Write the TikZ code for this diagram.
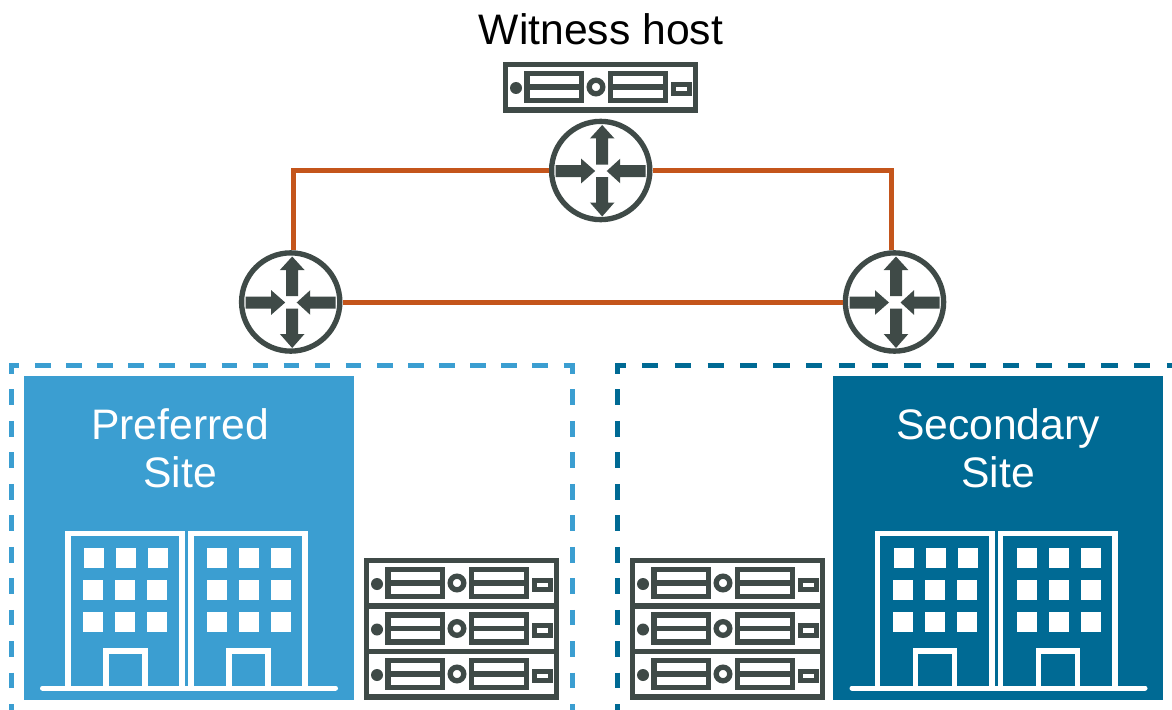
\documentclass[tikz,border=0pt]{standalone}
\usepackage{fontspec}
\setmainfont{Liberation Sans}
\definecolor{icon}{HTML}{3F4A47}
\definecolor{wan}{HTML}{C4551B}
\definecolor{sitea}{HTML}{3B9ED1}
\definecolor{siteb}{HTML}{006A94}
\tikzset{
  x=0.75pt,y=-0.75pt,
  label text/.style={font=\fontsize{32}{36}\selectfont,align=center,inner sep=0pt},
  link/.style={draw=wan,line width=3.75pt},
  sitebox/.style={rectangle,inner sep=0pt,outer sep=0pt,anchor=north west},
  zonewidth/.style={line width=3.75pt},
  routerdisc/.style={circle,draw=icon,fill=white,line width=4pt,minimum size=73.7pt,inner sep=0pt},
  serverunit/.pic={
    \begin{scope}[draw=icon,line width=4pt]
      \draw (2.65,2.65) rectangle (192.35,48);
      \fill[icon] (13,26) circle (6);
      \draw (24,11.6) rectangle (78.6,38.4);
      \draw (24,25) -- (78.6,25);
      \draw (93,25) circle (6.8);
      \draw (107.6,11.6) rectangle (162.2,38.4);
      \draw (107.6,25) -- (162.2,25);
      \draw (170.2,22.2) rectangle (186.8,31.8);
    \end{scope}
  },
  routerarrows/.pic={
    \fill[icon] (-4.5,-6) -- (-4.5,-32) -- (-10.8,-32) -- (1.5,-45.5) -- (13.8,-32) -- (7.5,-32) -- (7.5,-6) -- cycle;
    \fill[icon] (-4.5,6.5) -- (-4.5,32) -- (-10.8,32) -- (1.5,46) -- (13.8,32) -- (7.5,32) -- (7.5,6.5) -- cycle;
    \fill[icon] (-45,-5.5) -- (-19.5,-5.5) -- (-19.5,-11.8) -- (-5.5,0.5) -- (-19.5,12.8) -- (-19.5,6.5) -- (-45,6.5) -- cycle;
    \fill[icon] (45,-5.5) -- (19.5,-5.5) -- (19.5,-11.8) -- (6,0.5) -- (19.5,12.8) -- (19.5,6.5) -- (45,6.5) -- cycle;
  },
  buildingicon/.pic={
    \begin{scope}[draw=white,line width=4.2pt]
      \draw (67.8,688) -- (67.8,533.5) -- (182.2,533.5) -- (182.2,688);
      \draw (190.8,688) -- (190.8,533.5) -- (305.2,533.5) -- (305.2,688);
      \draw (105.8,688) -- (105.8,650.8) -- (144.9,650.8) -- (144.9,688);
      \draw (228.8,688) -- (228.8,650.8) -- (267.9,650.8) -- (267.9,688);
    \end{scope}
    \draw[white,line width=3.75pt,line cap=round] (42.5,688) -- (335.5,688);
    \foreach \wx in {84,116,148}{\fill[white] (\wx,548) rectangle ++(20,20);}
    \foreach \wx in {83,115,147}{\foreach \wy in {580,612}{\fill[white] (\wx,\wy) rectangle ++(20,20);}}
    \foreach \wx in {207,239,271}{\foreach \wy in {548,580,612}{\fill[white] (\wx,\wy) rectangle ++(20,20);}}
  },
}
\begin{document}
\begin{tikzpicture}
\useasboundingbox (0,0) rectangle (1172,710);
% dashed zones: top edge and two sides, each with its own phase
\begin{scope}[zonewidth,draw=sitea]
  \draw[dash pattern=on 11.66pt off 11.66pt,dash phase=3.83pt] (9,365.5) -- (574.5,365.5);
  \draw[dash pattern=on 11.81pt off 11.81pt,dash phase=3.9pt] (11.5,363) -- (11.5,730);
  \draw[dash pattern=on 11.81pt off 11.81pt,dash phase=3.9pt] (572,363) -- (572,730);
\end{scope}
\begin{scope}[zonewidth,draw=siteb]
  \draw[dash pattern=on 12.3pt off 12.3pt,dash phase=4.35pt] (615,365.5) -- (1180,365.5);
  \draw[dash pattern=on 11.81pt off 11.81pt,dash phase=3.9pt] (617.5,363) -- (617.5,730);
  \draw[dash pattern=on 11.81pt off 11.81pt,dash phase=3.9pt] (1174,363) -- (1174,730);
\end{scope}
% site panels
\node[sitebox,fill=sitea,minimum width=247.5pt,minimum height=243pt] (sitepanelA) at (24,376) {};
\node[sitebox,fill=siteb,minimum width=247.5pt,minimum height=243pt] (sitepanelB) at (833,376) {};
\node[label text,text=white] (prefLabel) at (180,448) {Preferred\\Site};
\node[label text,text=white] (secLabel) at (998,448) {Secondary\\Site};
\pic (buildA) at (0,0) {buildingicon};
\pic (buildB) at (809.5,0) {buildingicon};
% witness
\node[label text,text=black] (witnessLabel) at (601,29) {Witness host};
\pic (witness) at (503,62) {serverunit};
% racks
\pic (rackA1) at (364,558) {serverunit};
\pic (rackA2) at (364,603.5) {serverunit};
\pic (rackA3) at (364,649) {serverunit};
\pic (rackB1) at (630,558) {serverunit};
\pic (rackB2) at (630,603.5) {serverunit};
\pic (rackB3) at (630,649) {serverunit};
% routers
\node[routerdisc] (rt) at (600.7,170.5) {};
\node[routerdisc] (rl) at (290.7,302) {};
\node[routerdisc] (rr) at (894.5,302) {};
\draw[link] (rt.west) -| ([xshift=1.9pt]rl.north);
\draw[link] (rt.east) -| ([xshift=-2.6pt]rr.north);
\draw[link] (rl.east) -- (rr.west);
\pic (arrT) at (rt.center) {routerarrows};
\pic (arrL) at (rl.center) {routerarrows};
\pic (arrR) at (rr.center) {routerarrows};
\end{tikzpicture}
\end{document}
